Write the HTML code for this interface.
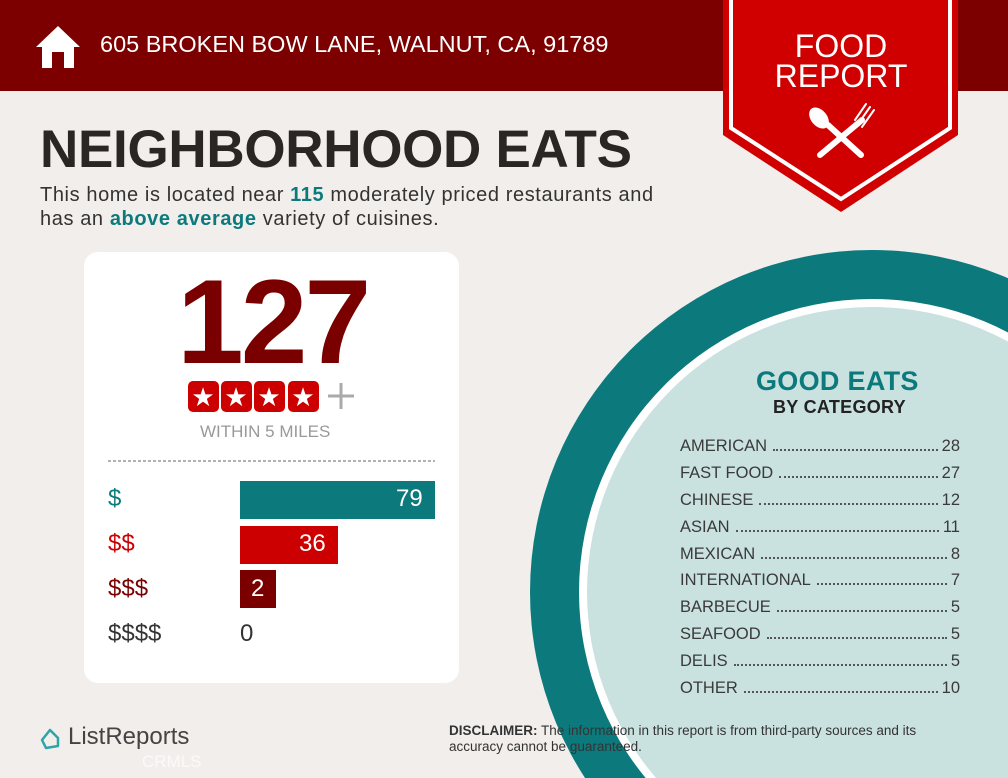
<!DOCTYPE html>
<html><head><meta charset="utf-8"><style>
html,body{margin:0;width:1008px;height:778px;overflow:hidden}
body{background:#f2eeeb;font-family:"Liberation Sans",sans-serif;position:relative}
.a{position:absolute;white-space:nowrap}
.row{position:absolute;left:680px;width:280px;font-size:16.5px;color:#3a3a3a;display:flex;align-items:baseline}
.row .d{flex:1;border-bottom:2px dotted #555;margin:0 4px 4px 6px;height:0}
</style></head><body>
<svg class="a" style="left:0;top:0" width="1008" height="778">
<rect x="0" y="0" width="1008" height="91" fill="#7c0000"/>
<circle cx="872" cy="592" r="342" fill="#0c7a7c"/>
<circle cx="872" cy="592" r="293" fill="#ffffff"/>
<circle cx="872" cy="592" r="285" fill="#c9e1df"/>
<polygon points="723,0 958,0 958,135 841,212 723,135" fill="#d00000"/>
<polyline points="731,0 731,128 841,199 950,128 950,0" fill="none" stroke="#fff" stroke-width="4"/>
<g stroke="#fff" stroke-linecap="round" fill="#fff">
<line x1="820" y1="155" x2="862" y2="120" stroke-width="6"/>
<line x1="861" y1="155" x2="828" y2="125" stroke-width="6"/>
<ellipse cx="819" cy="118" rx="8" ry="12" transform="rotate(-40 819 118)" stroke="none"/>
<path d="M858 124 L870 107 M862 127 L874 110 M855 120 L866 104" stroke-width="2"/>
</g>
<path d="M36 47 L58 26 L80 47 L74 47 L74 68 L64 68 L64 52 L52 52 L52 68 L42 68 L42 47 Z" fill="#fff"/>
<rect x="84" y="252" width="375" height="431" rx="14" fill="#fff"/>
<line x1="108" y1="461" x2="435" y2="461" stroke="#999" stroke-width="1.5" stroke-dasharray="3,2"/>
<rect x="240" y="481" width="195" height="38" fill="#0c7a7c"/>
<rect x="240" y="526" width="98" height="38" fill="#cc0000"/>
<rect x="240" y="570" width="36" height="38" fill="#7a0000"/>
<g fill="#cc0000"><rect x="188" y="381" width="31" height="31" rx="5"/><rect x="221" y="381" width="31" height="31" rx="5"/><rect x="254" y="381" width="31" height="31" rx="5"/><rect x="288" y="381" width="31" height="31" rx="5"/></g>
<g fill="#fff" font-size="26" text-anchor="middle" font-family="DejaVu Sans"><text x="203" y="406">★</text><text x="236" y="406">★</text><text x="269" y="406">★</text><text x="303" y="406">★</text></g>
<path d="M341 383 V409 M328 396 H354" stroke="#aaa" stroke-width="3"/>
<path d="M42 740 L50 730 L58 738 L58 746 L46 748 Z" fill="none" stroke="#2aa6a8" stroke-width="2.5" stroke-linejoin="round"/>
</svg>
<div class="a" style="left:100px;top:31px;font-size:23.5px;color:#fff">605 BROKEN BOW LANE, WALNUT, CA, 91789</div>
<div class="a" style="left:771px;top:31px;width:140px;text-align:center;font-size:32px;line-height:30px;color:#fff">FOOD<br>REPORT</div>
<div class="a" style="left:40px;top:119px;font-size:53px;font-weight:bold;color:#2a2624;letter-spacing:-0.3px">NEIGHBORHOOD EATS</div>
<div class="a" style="left:40px;top:183px;font-size:20px;line-height:24px;letter-spacing:0.6px;color:#333">This home is located near <b style="color:#0c7a7c">115</b> moderately priced restaurants and<br>has an <b style="color:#0c7a7c">above average</b> variety of cuisines.</div>
<div class="a" style="left:177px;top:262px;font-size:120px;font-weight:bold;color:#7a0000;letter-spacing:-3px;line-height:120px">127</div>
<div class="a" style="left:200px;top:422px;font-size:17px;color:#999">WITHIN 5 MILES</div>
<div class="a" style="left:108px;top:485px;font-size:24px;color:#0c7a7c">$</div>
<div class="a" style="left:108px;top:530px;font-size:24px;color:#cc0000">$$</div>
<div class="a" style="left:108px;top:575px;font-size:24px;color:#7a0000">$$$</div>
<div class="a" style="left:108px;top:620px;font-size:24px;color:#333">$$$$</div>
<div class="a" style="left:396px;top:485px;font-size:24px;color:#fff">79</div>
<div class="a" style="left:299px;top:530px;font-size:24px;color:#fff">36</div>
<div class="a" style="left:251px;top:575px;font-size:24px;color:#fff">2</div>
<div class="a" style="left:240px;top:620px;font-size:24px;color:#333">0</div>
<div class="a" style="left:756px;top:366px;font-size:27px;font-weight:bold;color:#0c7a7c;letter-spacing:0.3px">GOOD EATS</div>
<div class="a" style="left:773px;top:397px;font-size:18px;font-weight:bold;color:#222;letter-spacing:0.3px">BY CATEGORY</div>
<div class="row" style="top:437px">AMERICAN<span class="d"></span>28</div>
<div class="row" style="top:464px">FAST FOOD<span class="d"></span>27</div>
<div class="row" style="top:491px">CHINESE<span class="d"></span>12</div>
<div class="row" style="top:518px">ASIAN<span class="d"></span>11</div>
<div class="row" style="top:545px">MEXICAN<span class="d"></span>8</div>
<div class="row" style="top:571px">INTERNATIONAL<span class="d"></span>7</div>
<div class="row" style="top:598px">BARBECUE<span class="d"></span>5</div>
<div class="row" style="top:625px">SEAFOOD<span class="d"></span>5</div>
<div class="row" style="top:652px">DELIS<span class="d"></span>5</div>
<div class="row" style="top:679px">OTHER<span class="d"></span>10</div>
<div class="a" style="left:68px;top:723px;font-size:24px;color:#444">ListReports</div>
<div class="a" style="left:142px;top:752px;font-size:17px;line-height:20px;color:#fff;opacity:.7">CRMLS</div>
<div class="a" style="left:449px;top:723px;font-size:13.5px;line-height:16px;color:#333"><b>DISCLAIMER:</b> The information in this report is from third-party sources and its<br>accuracy cannot be guaranteed.</div>
</body></html>
